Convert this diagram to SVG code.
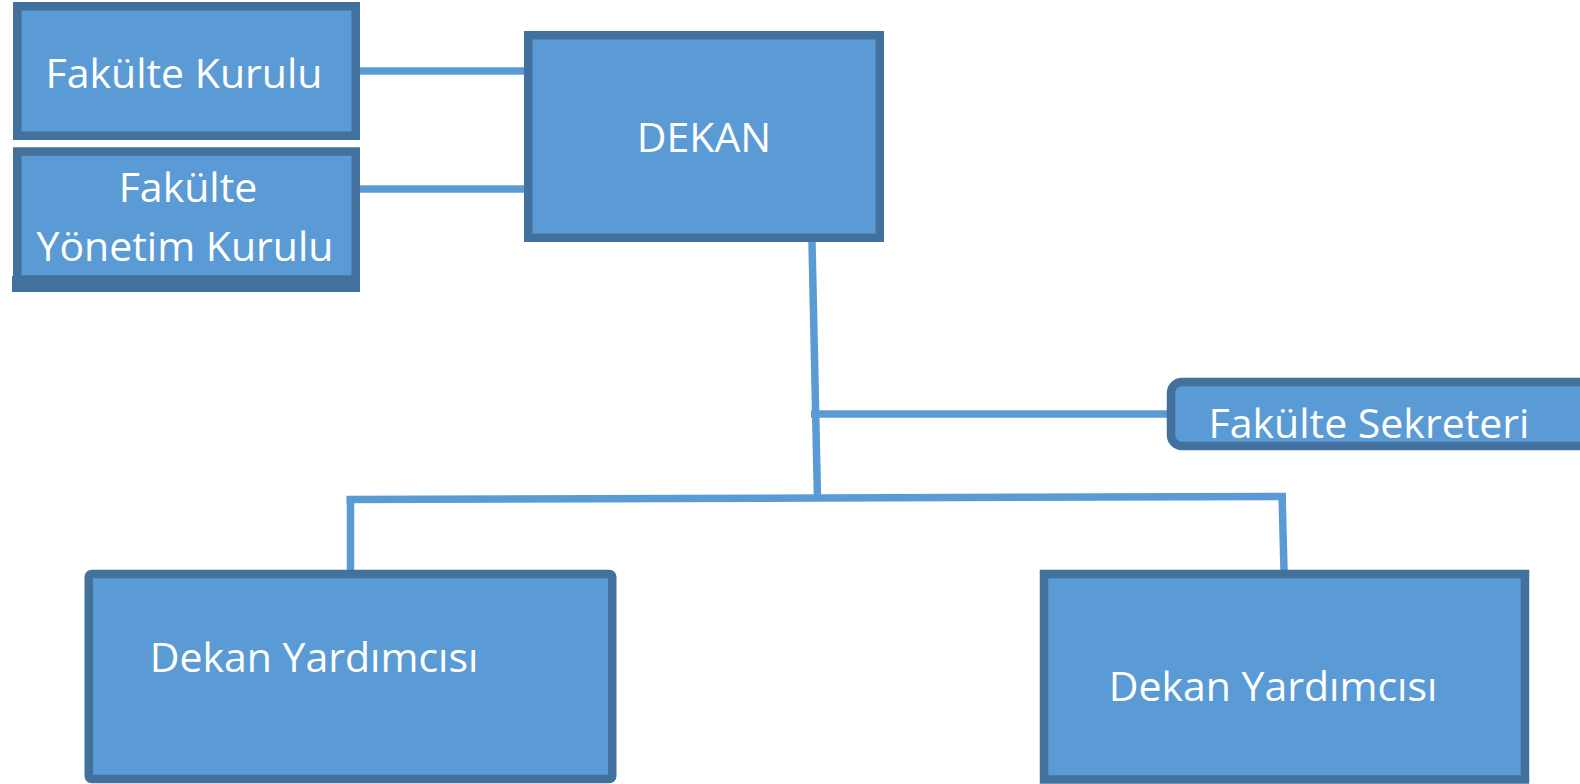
<svg xmlns="http://www.w3.org/2000/svg" width="1580" height="784" viewBox="0 0 1580 784">
<style>
.box{fill:#5B9BD5;stroke:#41719C;stroke-width:8.5}
.bar{fill:#41719C}
.lbl{font-family:"Open Sans","Noto Sans","Liberation Sans",sans-serif;font-size:41px;fill:#FFFFFF;text-anchor:middle}
.conn{stroke:#5B9BD5;stroke-width:7.5;fill:none}
</style>
<rect width="1580" height="784" fill="#FFFFFF"/>
<g id="connectors">
<line class="conn" x1="360" y1="71" x2="524" y2="71"/>
<line class="conn" x1="360" y1="189" x2="524" y2="189"/>
<line class="conn" x1="812" y1="242" x2="817.5" y2="499"/>
<line class="conn" x1="811" y1="414" x2="1168" y2="414"/>
<line class="conn" x1="346.5" y1="499.5" x2="1286" y2="496.5"/>
<line class="conn" x1="350.5" y1="496" x2="350.5" y2="570"/>
<line class="conn" x1="1282" y1="493" x2="1284" y2="570"/>
</g>
<g id="fakulte-kurulu">
<rect class="box" x="17.25" y="6.25" width="338.5" height="129.5"/>
<text class="lbl" x="184" y="88">Fakülte Kurulu</text>
</g>
<g id="fakulte-yonetim-kurulu">
<rect class="box" x="17.25" y="151.5" width="338.5" height="128"/>
<rect class="bar" x="12" y="276" width="348" height="16"/>
<text class="lbl" x="188" y="202">Fakülte</text>
<text class="lbl" x="185" y="261">Yönetim Kurulu</text>
</g>
<g id="dekan">
<rect class="box" x="528.25" y="35.25" width="351.5" height="202.5"/>
<text class="lbl" x="704" y="152">DEKAN</text>
</g>
<g id="fakulte-sekreteri">
<rect class="box" x="1171" y="382" width="480" height="64" rx="11" ry="11"/>
<text class="lbl" x="1369" y="438">Fakülte Sekreteri</text>
</g>
<g id="dekan-yardimcisi-1">
<rect class="box" x="88.75" y="574" width="523.5" height="205" rx="3" ry="3"/>
<text class="lbl" x="314" y="672">Dekan Yardımcısı</text>
</g>
<g id="dekan-yardimcisi-2">
<rect class="box" x="1044" y="574" width="481" height="205.5"/>
<text class="lbl" x="1273" y="701">Dekan Yardımcısı</text>
</g>
</svg>
